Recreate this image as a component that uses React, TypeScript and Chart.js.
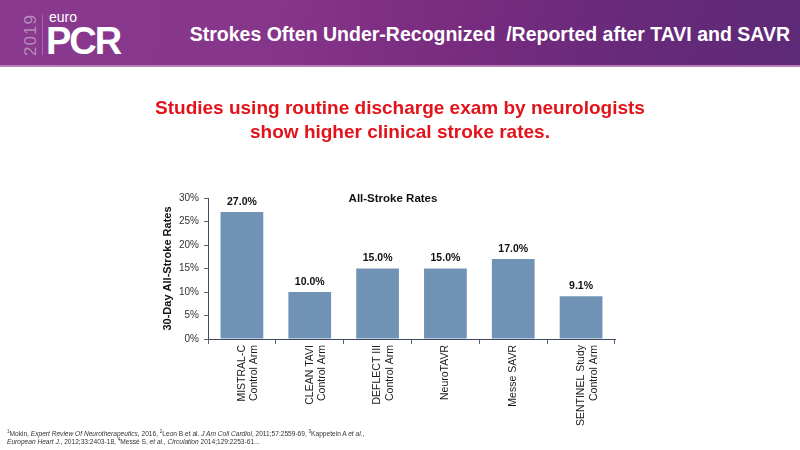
import React, { useEffect, useRef } from "react";
import { Chart, registerables } from "chart.js";

Chart.register(...registerables);

const categories: string[][] = [
  ["MISTRAL-C", "Control Arm"],
  ["CLEAN TAVI", "Control Arm"],
  ["DEFLECT III", "Control Arm"],
  ["NeuroTAVR"],
  ["Messe SAVR"],
  ["SENTINEL Study", "Control Arm"],
];
const strokeRates: number[] = [27.0, 10.0, 15.0, 15.0, 17.0, 9.1];
const yTickValues: number[] = [0, 5, 10, 15, 20, 25, 30];

const FONT = "'Liberation Sans', Arial, Helvetica, sans-serif";

const valueLabelPlugin = {
  id: "valueLabels",
  afterDatasetsDraw(chart: any) {
    const ctx = chart.ctx;
    const meta = chart.getDatasetMeta(0);
    ctx.save();
    ctx.font = `bold 10.5px ${FONT}`;
    ctx.fillStyle = "#111";
    ctx.textAlign = "center";
    ctx.textBaseline = "middle";
    meta.data.forEach((bar: any, i: number) => {
      const v = chart.data.datasets[0].data[i] as number;
      ctx.fillText(v.toFixed(1) + "%", bar.x, bar.y - 10);
    });
    ctx.restore();
  },
};

function StrokeChart() {
  const ref = useRef<HTMLCanvasElement | null>(null);
  useEffect(() => {
    if (!ref.current) return;
    const chart = new Chart(ref.current, {
      type: "bar",
      data: {
        labels: categories,
        datasets: [
          {
            label: "All-Stroke Rates",
            data: strokeRates,
            backgroundColor: "#7093B5",
            categoryPercentage: 1,
            barPercentage: 0.63,
          },
        ],
      },
      options: {
        animation: false,
        responsive: false,
        maintainAspectRatio: false,
        devicePixelRatio: 1,
        layout: { padding: { left: 157, right: 185, top: 198, bottom: 0 } },
        plugins: {
          legend: { display: false },
          tooltip: { enabled: false },
          title: { display: false },
        },
        scales: {
          x: {
            afterFit(scale: any) {
              scale.height = 111;
            },
            grid: {
              display: true,
              drawOnChartArea: false,
              tickLength: 5,
              color: "#5a6478",
              offset: true,
            },
            border: { color: "#3f4860", width: 1 },
            ticks: {
              minRotation: 90,
              maxRotation: 90,
              autoSkip: false,
              padding: 1,
              color: "#1a1a1a",
              font: { family: FONT, size: 10.5 },
            },
          },
          y: {
            min: 0,
            max: 30,
            afterFit(scale: any) {
              scale.width = 51;
            },
            afterBuildTicks(scale: any) {
              scale.ticks = yTickValues.map((v) => ({ value: v }));
            },
            grid: {
              display: true,
              drawOnChartArea: false,
              tickLength: 4,
              color: "#5a6478",
            },
            border: { color: "#3f4860", width: 1 },
            ticks: {
              padding: 5,
              color: "#333",
              font: { family: FONT, size: 10 },
              callback: (v: any) => v + "%",
            },
            title: {
              display: true,
              text: "30-Day All-Stroke Rates",
              color: "#111",
              padding: { top: 4, bottom: 0 },
              font: { family: FONT, size: 11, weight: "bold" },
            },
          },
        },
      },
      plugins: [valueLabelPlugin],
    });
    return () => chart.destroy();
  }, []);
  return (
    <canvas
      ref={ref}
      width={800}
      height={450}
      style={{ position: "absolute", left: 0, top: 0, width: 800, height: 450 }}
    />
  );
}

const supStyle: React.CSSProperties = {
  fontSize: 4.5,
  lineHeight: 0,
  verticalAlign: "3px",
};

export default function App() {
  return (
    <div
      style={{
        position: "fixed",
        left: 0,
        top: 0,
        width: 800,
        height: 450,
        overflow: "hidden",
        background: "#fff",
        fontFamily: FONT,
      }}
    >
      <StrokeChart />
      {/* header band */}
      <div
        style={{
          position: "absolute",
          left: 0,
          top: 0,
          width: 800,
          height: 65,
          background:
            "linear-gradient(100deg, #8a3a8e 0%, #85358a 35%, #7a2c80 55%, #67297a 80%, #5d2a78 100%)",
        }}
      />
      <div
        style={{
          position: "absolute",
          left: 0,
          top: 65,
          width: 800,
          height: 2,
          background: "#b77fb6",
        }}
      />
      {/* logo */}
      <div
        style={{
          position: "absolute",
          left: 30,
          top: 35,
          transform: "translate(-50%, -50%) rotate(-90deg)",
          color: "#b68bbb",
          fontSize: 17,
          letterSpacing: 1,
          whiteSpace: "nowrap",
          lineHeight: 1,
        }}
      >
        2019
      </div>
      <div
        style={{
          position: "absolute",
          left: 42,
          top: 15,
          width: 1,
          height: 40,
          background: "#a46aa6",
        }}
      />
      <div
        style={{
          position: "absolute",
          left: 49,
          top: 10,
          color: "#fff",
          fontSize: 14,
          lineHeight: 1,
        }}
      >
        euro
      </div>
      <div
        style={{
          position: "absolute",
          left: 46,
          top: 22,
          color: "#fff",
          fontSize: 38,
          fontWeight: "bold",
          lineHeight: 1,
          letterSpacing: -2,
        }}
      >
        PCR
      </div>
      <div
        style={{
          position: "absolute",
          right: 10,
          top: 25,
          color: "#fff",
          fontSize: 19.5,
          fontWeight: "bold",
          lineHeight: 1,
          whiteSpace: "pre",
        }}
      >
        Strokes Often Under-Recognized  /Reported after TAVI and SAVR
      </div>
      {/* subtitle */}
      <div
        style={{
          position: "absolute",
          left: 0,
          top: 96,
          width: 800,
          textAlign: "center",
          color: "#e3131b",
          fontSize: 19,
          fontWeight: "bold",
          lineHeight: "24px",
        }}
      >
        Studies using routine discharge exam by neurologists
        <br />
        show higher clinical stroke rates.
      </div>
      {/* chart title */}
      <div
        style={{
          position: "absolute",
          left: 393,
          top: 199,
          transform: "translate(-50%, -50%)",
          color: "#111",
          fontSize: 11.5,
          fontWeight: "bold",
          whiteSpace: "nowrap",
          lineHeight: 1,
        }}
      >
        All-Stroke Rates
      </div>
      {/* footnote */}
      <div
        style={{
          position: "absolute",
          left: 7,
          top: 430,
          color: "#333",
          fontSize: 6.6,
          lineHeight: "8px",
          whiteSpace: "nowrap",
        }}
      >
        <sup style={supStyle}>1</sup>Mokin, <i>Expert Review Of Neurotherapeutics</i>, 2016,{" "}
        <sup style={supStyle}>2</sup>Leon B et al. <i>J Am Coll Cardiol</i>, 2011;57:2559-69,{" "}
        <sup style={supStyle}>3</sup>Kappetein A <i>et al.</i>,
        <br />
        <i>European Heart J.</i>, 2012;33:2403-18, <sup style={supStyle}>4</sup>Messé S, <i>et al.</i>,{" "}
        <i>Circulation</i> 2014;129:2253-61...
      </div>
    </div>
  );
}
